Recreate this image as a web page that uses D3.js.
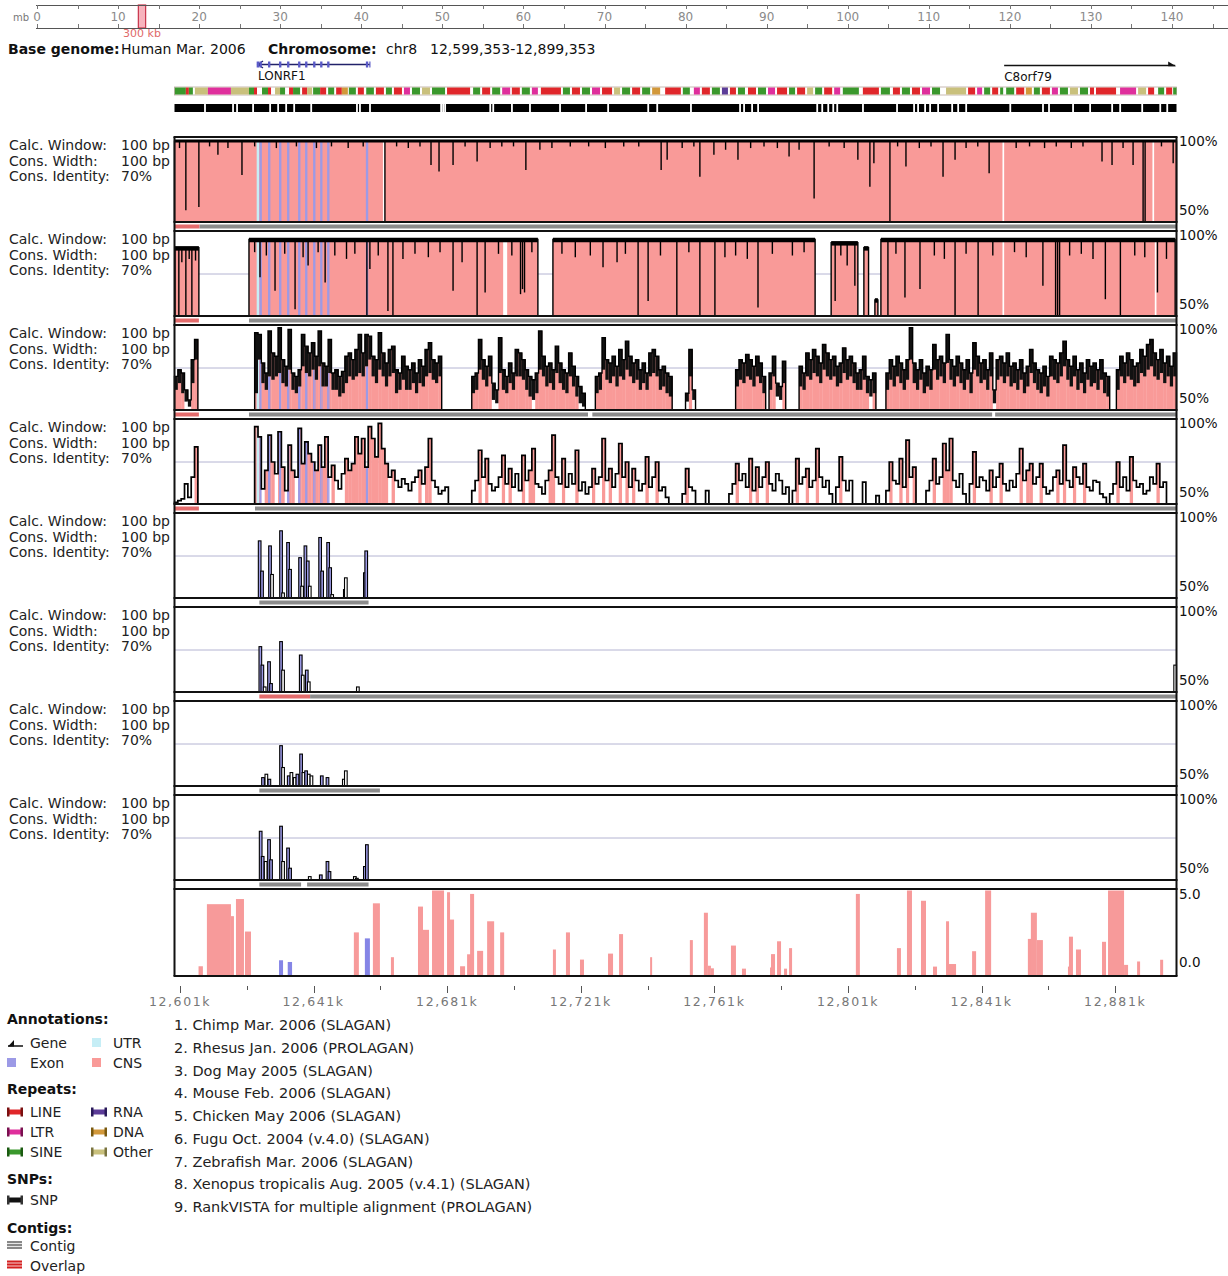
<!DOCTYPE html>
<html>
<head>
<meta charset="utf-8">
<script src="https://cdn.jsdelivr.net/npm/d3@7/dist/d3.min.js"></script>
<style>
html,body{margin:0;padding:0;background:#fff;}
svg text{font-family:"DejaVu Sans",Verdana,sans-serif;}
</style>
</head>
<body>
<svg id="chart" width="1228" height="1276"></svg>
<script>
// ======================= DATA =======================
const regionStartK = 12599.353;          // region start, kb
const regionLengthK = 300;                // region length, kb (positions below are kb offsets)
const rulerLabelsMb = [0,10,20,30,40,50,60,70,80,90,100,110,120,130,140];
const rulerMinorMb = [5,15,25,35,45,55,65,75,85,95,105,115,125,135,145];
const regionMarkMb = [12.5, 13.4];
const regionMarkLabel = "300 kb";
const headerTexts = ["Base genome:", "Human Mar. 2006", "Chromosome:", "chr8", "12,599,353-12,899,353"];

const axisTicksK = [12601,12621,12641,12661,12681,12701,12721,12741,12761,12781,12801,12821,12841,12861,12881];
const axisLabelsK = [12601,12641,12681,12721,12761,12801,12841,12881];

const genes = [
  {name:"LONRF1", start:25.0, end:58.5, strand:-1},
  {name:"C8orf79", start:248.4, end:299.6, strand:1}
];
const utrs = [[24.6,25.35]];
const exons = [[25.45,26.15],[28.0,28.7],[31.3,32.0],[33.7,34.4],[37.0,37.7],[39.1,39.8],[41.5,42.2],[43.6,44.3],[45.7,46.4],[57.3,58.0]];

const repeats = [
[0.1,3.4,"SINE"],[3.4,4.3,"LINE"],[4.3,5.5,"SINE"],[6.1,10.0,"Other"],[10.0,16.9,"LTR"],[16.9,22.3,"Other"],[22.3,23.8,"SINE"],[23.8,24.7,"LINE"],
[26.2,28.0,"SINE"],[28.0,28.9,"LINE"],[30.1,31.6,"Other"],[31.6,33.1,"SINE"],[34.3,35.5,"LINE"],[35.5,37.6,"SINE"],[38.2,39.7,"LINE"],[39.7,41.2,"Other"],
[41.5,43.6,"SINE"],[43.6,45.4,"LINE"],[46.0,47.8,"SINE"],[48.4,50.1,"LINE"],[50.1,51.9,"DNA"],[52.2,54.3,"SINE"],[54.9,56.7,"LINE"],[57.4,59.7,"SINE"],
[60.3,62.7,"LINE"],[63.3,65.1,"SINE"],[65.7,68.1,"LINE"],[68.7,70.5,"LTR"],[71.1,73.5,"SINE"],[74.1,76.5,"Other"],[77.1,81.0,"SINE"],[81.6,88.5,"LINE"],
[89.4,91.5,"SINE"],[92.1,94.5,"LINE"],[95.1,97.5,"SINE"],[98.1,100.5,"LTR"],[101.0,103.4,"LINE"],[104.0,106.4,"SINE"],[107.0,108.8,"LTR"],[109.7,115.7,"LINE"],
[116.3,118.4,"SINE"],[119.0,121.4,"LINE"],[122.0,124.4,"SINE"],[125.0,127.4,"LTR"],[128.0,131.0,"LINE"],[131.6,133.4,"Other"],[134.0,136.4,"SINE"],[137.0,139.4,"LINE"],
[140.0,142.4,"SINE"],[143.0,145.4,"DNA"],[146.9,151.6,"LINE"],[152.2,154.3,"SINE"],[155.5,157.3,"LTR"],[157.9,160.3,"LINE"],[160.9,163.3,"SINE"],[163.9,165.7,"RNA"],
[166.3,168.1,"LINE"],[168.7,170.8,"SINE"],[171.7,174.1,"LINE"],[174.7,177.1,"SINE"],[177.7,179.8,"LTR"],[180.4,183.4,"LINE"],[184.0,185.8,"SINE"],[186.4,188.8,"LINE"],
[189.4,191.2,"Other"],[191.8,193.9,"SINE"],[194.5,196.9,"LINE"],[197.5,199.3,"LTR"],[200.1,204.9,"SINE"],[206.1,210.9,"LINE"],[211.5,214.2,"SINE"],[215.1,217.2,"LINE"],
[217.8,220.2,"SINE"],[220.8,223.2,"LINE"],[223.8,226.2,"LTR"],[226.8,229.2,"SINE"],[231.0,237.0,"Other"],[237.6,239.7,"LINE"],[240.3,241.8,"LTR"],[242.4,244.2,"SINE"],
[244.8,246.6,"LINE"],[247.2,248.1,"SINE"],[249.0,251.4,"SINE"],[252.0,254.4,"LINE"],[254.9,256.7,"DNA"],[257.3,259.1,"SINE"],[259.7,262.1,"LINE"],[262.7,264.5,"LTR"],
[265.1,267.5,"SINE"],[268.1,270.5,"Other"],[271.1,273.5,"SINE"],[274.1,275.3,"LINE"],[275.9,281.9,"LINE"],[283.1,287.9,"LTR"],[288.5,290.9,"Other"],[291.5,293.3,"LINE"],
[294.5,296.3,"SINE"],[296.9,298.7,"LINE"],[299.0,300.0,"SINE"]
];
const snpGaps = [9.1,17.5,18.7,23.5,28.6,31.0,33.4,35.8,40.9,54.6,55.5,58.5,79.8,80.4,81.0,94.5,95.4,101.0,106.4,115.4,123.2,129.8,141.8,144.5,154.6,169.3,170.5,172.9,174.7,192.4,193.9,195.7,197.2,198.4,206.1,216.3,221.4,222.6,224.7,226.2,228.6,232.8,234.6,237.0,250.2,260.0,261.8,269.0,274.1,280.7,283.1,289.7,295.1,297.2];

// Panel 1: Chimp — aligned blocks [start, end, top%], dips [kb, %], white gaps
const chimpBlocks = [[0.0,300.0,98.5]];
const chimpDips = [[3.4,57],[7.3,59],[13.0,90],[20.2,78],[63.0,50],[76.8,84],[79.2,80],[83.4,84],[90.6,86],[105.2,81],[109.4,93],[145.7,81],[147.5,87],[157.3,77],[161.5,90],[168.7,87],[184.0,89],[187.0,93],[191.5,64],[204.6,87],[208.2,71],[209.4,85],[214.2,50],[219.0,83],[230.1,77],[233.7,87],[243.9,79],[277.7,86],[280.7,84],[287.0,84],[290.0,50],[290.6,50],[299.0,85],
[1.5,94],[10.5,95],[16.0,94],[24.0,95],[30.5,94],[36.5,95],[42.5,94],[47.0,95],[52.0,94],[56.5,95],[66.5,95],[70.0,94],[73.5,95],[87.0,95],[94.5,94],[98.0,95],[101.5,95],[113.0,94],[118.5,95],[124.0,95],[129.0,94],[134.5,95],[139.0,95],[152.0,94],[155.5,95],[165.0,93],[172.5,94],[176.5,95],[180.5,94],[196.0,95],[200.5,94],[216.5,95],[223.0,94],[226.5,95],[237.0,94],[240.5,95],[252.0,94],[256.0,95],[260.5,94],[264.0,95],[268.5,94],[272.0,95],[284.0,94],[295.5,95]];
const chimpWhite = [[62.4,63.0],[247.9,248.4],[292.8,293.3]];

// Panel 2: Rhesus
const rhesusBlocks = [[0.15,7.3,91],[22.3,108.8,96],[113.3,191.8,96],[196.6,204.6,94],[206.4,207.8,91],[209.7,210.6,60],[211.5,299.6,96]];
const rhesusDips = [[1.3,50],[3.4,50],[5.2,50],
[25.6,73],[30.1,65],[36.1,54],[40.0,80],[45.1,70],[57.6,50],[58.5,78],[63.9,53],[65.4,50],[68.4,84],[83.4,65],[86.1,82],[90.6,50],[93.0,64],[103.6,63],[104.2,66],[104.8,64],
[128.3,79],[132.5,82],[138.8,50],[141.8,59],[150.4,50],[157.3,50],[161.8,50],[164.8,85],[174.7,55],
[197.8,59],[201.4,80],[203.7,68],
[213.6,50],[218.7,61],[223.2,66],[233.7,50],[240.6,50],[260.0,68],[263.8,50],[264.4,50],[265.0,50],[278.7,60],[283.2,50],[294.3,64],
[2.2,82],[4.4,84],[6.3,83],[24.0,88],[27.5,86],[33.0,87],[38.5,85],[43.0,88],[48.0,86],[51.5,84],[54.0,87],[61.0,86],[72.0,87],[76.0,85],[79.5,88],[97.0,87],[101.0,86],[107.0,88],[116.0,87],[120.0,85],[124.5,86],[135.0,87],[145.5,86],[154.0,88],[168.0,86],[171.5,84],[179.0,87],[185.0,86],[188.5,88],[199.5,86],[216.0,87],[227.5,86],[230.5,84],[237.0,87],[245.0,86],[251.5,88],[255.0,85],[268.0,86],[271.5,87],[275.0,84],[287.5,86],[290.5,85],[297.0,84]];
const rhesusWhite = [[98.4,99.6],[247.9,248.4],[293.5,294.0]];

// Panel 3: Dog — [first 1-kb bin, peak values %, trough values %]
const dogBins = [
[0,[70,74,72,62,56,80,92],[62,66,60,55,52,66,80]],
[24,[96,95,78,72,97,84,82,99,80,76,98,72,70,74,95,88,84,90,82,97,78,76,92,72,74,70,73,82,84,80,86,95,84,95,94,82,80,96,84,78,86,88,74,72,82,76,74,78,72,80,76,86,90,80,78,82],
    [60,80,66,62,70,68,70,72,66,64,74,62,60,64,76,72,70,74,68,76,64,64,72,62,62,58,60,66,70,68,70,72,70,76,80,70,66,74,70,64,70,72,60,62,68,62,62,66,60,66,64,70,72,68,66,70]],
[89,[70,72,92,80,76,82,66,62,93,74,70,78,72,86,84,80,74,70,68,72,97,82,76,78,74,88,78,74,72,84,76,70,64,60],
    [60,62,74,68,64,70,56,54,72,62,60,66,62,70,70,68,62,58,56,60,74,70,64,66,62,72,66,62,60,70,64,58,54,52]],
[126,[70,72,93,80,78,82,76,86,80,91,82,78,80,74,78,72,84,86,82,74,76,72,70],
     [60,62,74,68,66,70,64,70,68,74,70,66,68,62,66,62,70,72,70,62,64,60,58]],
[153,[60,86,62],[55,70,56]],
[168,[74,80,78,83,80,76,82,78,70],[64,68,66,70,68,64,70,66,60]],
[178,[72,82,66,64,79],[62,70,58,56,66]],
[187,[76,72,84,80,86,82,78,89,84,80,82,76,78,87,80,82,78,72,74,82,70,68,72],
     [64,62,70,68,72,70,66,74,70,68,70,64,66,72,68,70,66,62,62,68,60,58,60]],
[213,[72,80,76,82,78,74,80,99,78,74,80,72,76,74,89,80,82,78,95,80,76,82,78,74,80,72,90,82,78,80,74,84,62,80,82,78,84,76,78,74,80,72,76,86,78,74,72,76,70,82,80,78,84,91,80,76,82,74,78,72,80,76,78,74,80,72,70],
     [62,68,64,70,66,62,68,80,66,62,68,60,64,62,74,68,70,66,78,68,64,70,66,62,68,60,74,70,66,68,62,70,54,68,70,66,70,64,66,62,68,60,64,72,66,62,60,64,58,70,68,66,70,76,68,64,70,62,66,60,68,64,66,62,68,60,58]],
[282,[74,82,78,84,80,76,78,86,82,89,92,84,80,86,78,82,76,84],[62,70,66,70,68,64,66,72,70,74,76,70,68,72,66,70,64,70]]
];

// Panel 4: Mouse — [first 1-kb bin, values %]
const mouseBins = [
[0,[51,52,53,62,54,66,84]],
[24,[96,90,59,70,91,75,68,93,72,58,85,70,66,95,74,87,80,75,70,85,72,90,66,73,64,59,68,77,70,74,90,80,89,72,96,89,78,98,83,74,66,70,64,60,65,62,58,63,66,70,62,72,89,64,60,56,58,60]],
[89,[58,64,82,66,77,62,58,60,66,79,62,71,60,68,58,79,64,70,83,62,60,56,64,70,91,66,62,77,60,68,62,82,58,63,56,60,71,62,66,89,64,71,60,68,86,66,75,60,71,64,58,62,78,60,66,75,58,60,54]],
[152,[56,71,60,58]],
[159,[58]],
[166,[56,62,74,64,68,60,77,58,72,60,66,75,62,58,68,64,56,60]],
[185,[58,77,62,66,71,60,64,83,66,60,64,56]],
[198,[60,78,64,58,64]],
[206,[63]],
[210,[55]],
[213,[58,75,64,62,77,60,88,66,72]],
[225,[58,64,77,62,66,86,70,89,64,60,68,56]],
[238,[62,81,60,66,64,58,70,60,66,74,62,58,64,60,68,83,64,70,74,62,66,74,60,56,58,66,70,62,85,64,60,72,66,62,74,60,58,64,63,56,54]],
[280,[56,62,75,60,66,58,78,64,60,62,56,58,66,62,74,60,63]]
];

// Panels 5-8: narrow peaks [kb, %]
const chickenPeaks = [[25.5,84],[26.2,66],[28.6,81],[29.2,64],[31.9,90],[32.5,53],[34.0,83],[34.6,67],[37.6,74],[38.2,57],[39.2,81],[39.9,72],[40.5,57],[43.6,86],[44.2,66],[46.0,83],[46.6,68],[47.2,52],[51.0,55],[51.3,62],[57.0,65],[57.4,78]];
const fuguPeaks = [[25.7,77],[26.3,66],[27.0,53],[28.3,68],[28.9,55],[31.9,80],[32.5,63],[37.8,72],[38.4,60],[39.6,63],[40.2,56],[54.9,53],[299.6,66]];
const zebrafishPeaks = [[26.5,55],[27.5,57],[28.4,54],[31.9,74],[32.5,61],[34.2,56],[35.0,58],[36.0,55],[36.8,57],[37.9,69],[38.6,58],[39.4,59],[40.2,57],[41.0,56],[44.1,56],[45.8,55],[50.7,54],[51.3,59]];
const xenopusPeaks = [[25.8,79],[26.4,64],[27.3,61],[28.3,74],[28.9,62],[31.9,82],[32.5,61],[34.0,69],[34.6,57],[40.5,52],[43.8,53],[45.8,61],[46.4,55],[54.0,52],[54.6,51],[57.0,58],[57.6,71]];

// Panel 9: RankVISTA bars [start, end, score, kind]
const rankBars = [
[7.2,8.5,0.57,"cns"],[9.7,16.9,4.2,"cns"],[16.9,17.8,3.5,"cns"],[18.4,20.8,4.5,"cns"],[21.1,22.9,2.6,"cns"],[31.3,32.5,0.92,"exon"],[33.9,35.2,0.82,"exon"],
[53.7,55.2,2.55,"cns"],[57.0,58.5,2.2,"exon"],[59.4,61.5,4.25,"cns"],[64.8,65.7,1.1,"cns"],[72.9,74.4,4.06,"cns"],[74.4,76.2,2.7,"cns"],[77.1,80.7,5.0,"cns"],
[81.6,82.5,4.9,"cns"],[82.2,83.7,3.3,"cns"],[85.5,87.0,0.57,"cns"],[87.6,88.8,1.27,"cns"],[88.5,89.7,4.8,"cns"],[90.6,92.4,1.47,"cns"],[93.6,95.7,3.2,"cns"],
[97.5,98.7,2.55,"cns"],[113.3,114.2,1.55,"cns"],[117.2,118.4,2.55,"cns"],[121.4,122.6,0.96,"cns"],[129.8,131.3,1.31,"cns"],[133.1,134.3,2.45,"cns"],[142.4,143.0,1.1,"cns"],
[154.3,155.2,2.1,"cns"],[158.5,159.7,3.7,"cns"],[159.7,160.6,0.6,"cns"],[160.6,161.5,0.45,"cns"],[166.6,168.1,1.78,"cns"],[169.9,171.1,0.43,"cns"],[178.3,178.9,0.5,"cns"],
[178.6,179.8,1.28,"cns"],[180.4,181.6,2.03,"cns"],[182.5,183.4,0.43,"cns"],[184.0,184.9,1.63,"cns"],[204.0,205.2,4.8,"cns"],[216.3,217.5,1.63,"cns"],[219.3,220.8,5.0,"cns"],
[223.5,225.0,4.4,"cns"],[227.1,228.3,0.55,"cns"],[231.0,231.9,3.2,"cns"],[231.6,234.0,0.7,"cns"],[238.8,240.0,1.45,"cns"],[242.7,244.5,5.0,"cns"],[255.5,257.0,2.17,"cns"],
[256.4,258.2,3.7,"cns"],[258.2,260.0,2.1,"cns"],[267.5,268.7,0.55,"cns"],[267.8,269.0,2.3,"cns"],[269.9,271.4,1.55,"cns"],[277.7,278.9,2.0,"cns"],[279.5,284.3,5.0,"cns"],
[284.3,285.5,0.65,"cns"],[288.2,289.1,0.85,"cns"],[295.1,296.0,0.95,"cns"]
];

// contig strips per panel [start, end, kind]
const contigs = [
 [[0,7.5,"overlap"],[7.5,300,"contig"]],
 [[0,7.3,"overlap"],[22.3,300,"contig"]],
 [[0,7.3,"overlap"],[22.3,123.8,"contig"],[125.1,244.8,"contig"],[245.7,300,"contig"]],
 [[0,7.3,"overlap"],[24.1,300,"contig"]],
 [[25.4,58.1,"contig"]],
 [[25.4,40.6,"overlap"],[40.6,300,"contig"]],
 [[25.4,61.5,"contig"]],
 [[25.4,37.9,"contig"],[39.7,58.1,"contig"]]
];

const panelParamLabels = ["Calc. Window:", "Cons. Width:", "Cons. Identity:"];
const panelParamValues = ["100 bp", "100 bp", "70%"];
const identityTicks = ["100%", "50%"];
const rankTicks = ["5.0", "0.0"];
const speciesList = [
 "1. Chimp Mar. 2006 (SLAGAN)",
 "2. Rhesus Jan. 2006 (PROLAGAN)",
 "3. Dog May 2005 (SLAGAN)",
 "4. Mouse Feb. 2006 (SLAGAN)",
 "5. Chicken May 2006 (SLAGAN)",
 "6. Fugu Oct. 2004 (v.4.0) (SLAGAN)",
 "7. Zebrafish Mar. 2006 (SLAGAN)",
 "8. Xenopus tropicalis Aug. 2005 (v.4.1) (SLAGAN)",
 "9. RankVISTA for multiple alignment (PROLAGAN)"
];
const legendAnnot = [["Gene","UTR"],["Exon","CNS"]];
const legendRepeats = [["LINE","RNA"],["LTR","DNA"],["SINE","Other"]];

// ======================= STYLE =======================
const PINK = "#f99a98", EXON = "#9c9ae6", UTRC = "#c6eef6";
const RANKPINK = "#f79a9a", RANKBLUE = "#8585e6";
const repeatColor = {LINE:"#e0262a", LTR:"#df2f9c", SINE:"#3a982c", DNA:"#d2983a", Other:"#c9c07c", RNA:"#5c3c98"};
const repeatCap = {LINE:"#7a1010", LTR:"#7a1050", SINE:"#1a5a10", DNA:"#7a5a10", Other:"#7a7440", RNA:"#2a1a5a"};

const svg = d3.select("#chart");
svg.append("rect").attr("width",1228).attr("height",1276).attr("fill","#fff");

const x = d3.scaleLinear().domain([0, regionLengthK]).range([174.5, 1176.5]);
const TOP0 = 137, STEP = 94, PH = 85;

// ======================= RULER =======================
const ruler = d3.scaleLinear().domain([0,140]).range([37,1172]);
const rg = svg.append("g");
rg.append("rect").attr("x", ruler(regionMarkMb[0])).attr("y",5).attr("width", ruler(regionMarkMb[1])-ruler(regionMarkMb[0])).attr("height",23)
  .attr("fill","#f7b3bd").attr("stroke","#c8324a").attr("stroke-width",1.2);
[5.5,28.5].forEach(yy=> rg.append("line").attr("x1",36).attr("x2",1228).attr("y1",yy).attr("y2",yy).attr("stroke","#555").attr("stroke-width",1));
rulerMinorMb.concat(rulerLabelsMb).forEach(m=>{
  const xx = Math.round(ruler(m))+0.5;
  rg.append("line").attr("x1",xx).attr("x2",xx).attr("y1",5).attr("y2",9).attr("stroke","#777");
  rg.append("line").attr("x1",xx).attr("x2",xx).attr("y1",24).attr("y2",28).attr("stroke","#777");
});
rulerLabelsMb.forEach(m=>{
  rg.append("text").attr("x", ruler(m)).attr("y",21).attr("text-anchor","middle").attr("font-size",12).attr("fill","#8a8a8a").text(m);
});
rg.append("text").attr("x",13).attr("y",21).attr("font-size",10).attr("fill","#777").text("mb");
rg.append("text").attr("x", ruler((regionMarkMb[0]+regionMarkMb[1])/2)).attr("y",37).attr("text-anchor","middle").attr("font-size",11).attr("fill","#e06a6a").text(regionMarkLabel);

// header line
const hx = [8, 121, 268, 386, 430];
headerTexts.forEach((t,i)=>{
  svg.append("text").attr("x",hx[i]).attr("y",54).attr("font-size",14).attr("font-weight", (i===0||i===2)?"bold":"normal")
    .attr("fill","#111").text(t);
});

// ======================= GENES =======================
genes.forEach(g=>{
  const x0 = x(g.start), x1 = x(g.end);
  if (g.strand < 0) {
    const yy = 64.5;
    svg.append("line").attr("x1",x0).attr("x2",x1).attr("y1",yy).attr("y2",yy).attr("stroke","#22226a").attr("stroke-width",1.6);
    svg.append("path").attr("d",`M${x0+5},${yy-3.5}L${x0},${yy}L${x0+5},${yy+3.5}`).attr("fill","none").attr("stroke","#22226a").attr("stroke-width",1.4);
    svg.append("line").attr("x1",x1).attr("x2",x1).attr("y1",yy-3).attr("y2",yy+3).attr("stroke","#5a5ac8").attr("stroke-width",1.2);
    exons.concat(utrs).forEach(e=>{
      svg.append("rect").attr("x",x(e[0])).attr("y",yy-3).attr("width",Math.max(1.5,x(e[1])-x(e[0]))).attr("height",6).attr("fill","#5a5ac8");
    });
    svg.append("text").attr("x",x0).attr("y",80).attr("font-size",12).attr("fill","#111").text(g.name);
  } else {
    const yy = 65.5;
    svg.append("line").attr("x1",x0).attr("x2",x1).attr("y1",yy).attr("y2",yy).attr("stroke","#111").attr("stroke-width",1.6);
    svg.append("path").attr("d",`M${x1-7},${yy-4}L${x1+1},${yy+0.8}L${x1-7},${yy+0.8}Z`).attr("fill","#111");
    svg.append("text").attr("x",x0).attr("y",81).attr("font-size",12).attr("fill","#111").text(g.name);
  }
});

// ======================= REPEATS & SNP TRACK =======================
const repG = svg.append("g");
repG.append("rect").attr("x",x(0)).attr("y",87).attr("width",x(300)-x(0)).attr("height",8).attr("fill","#fff").attr("stroke","#b9a8a0").attr("stroke-width",0.8);
repeats.forEach(r=>{
  repG.append("rect").attr("x",x(r[0])).attr("y",87.5).attr("width",Math.max(0.8,x(r[1])-x(r[0]))).attr("height",7).attr("fill",repeatColor[r[2]]);
});
const snpG = svg.append("g");
snpG.append("rect").attr("x",x(0)).attr("y",104).attr("width",x(300)-x(0)).attr("height",8).attr("fill","#000");
snpGaps.forEach(k=>{
  snpG.append("rect").attr("x",x(k)-0.8).attr("y",104).attr("width",1.8).attr("height",8).attr("fill","#fff");
});

// ======================= PANELS =======================
function yScaleFor(top){ return d3.scaleLinear().domain([50,100]).range([top+PH, top+1]); }
function exonOverlay(g, y, a, b, topVal){
  utrs.forEach(e=>{
    const s=Math.max(a,e[0]), t=Math.min(b,e[1]);
    if (t>s) g.append("rect").attr("x",x(s)).attr("y",y(topVal)).attr("width",x(t)-x(s)).attr("height",y(50)-y(topVal)).attr("fill",UTRC);
  });
  exons.forEach(e=>{
    const s=Math.max(a,e[0]), t=Math.min(b,e[1]);
    if (t>s) g.append("rect").attr("x",x(s)).attr("y",y(topVal)).attr("width",x(t)-x(s)).attr("height",y(50)-y(topVal)).attr("fill",EXON);
  });
}
function drawBlocks(g, y, blocks, dips, whites, sw){
  blocks.forEach(([s,e,t])=>{
    g.append("rect").attr("x",x(s)).attr("y",y(t)).attr("width",x(e)-x(s)).attr("height",y(50)-y(t)).attr("fill",PINK);
    exonOverlay(g, y, s, e, t);
  });
  whites.forEach(([s,e])=>{
    g.append("rect").attr("x",x(s)).attr("y",y(100)).attr("width",Math.max(1.2,x(e)-x(s))).attr("height",y(50)-y(100)).attr("fill","#fff");
  });
  blocks.forEach(([s,e,t])=>{
    g.append("path").attr("d",`M${x(s)},${y(50)}V${y(t)}M${x(e)},${y(t)}V${y(50)}`).attr("fill","none").attr("stroke","#000").attr("stroke-width",1.4);
    g.append("line").attr("x1",x(s)).attr("x2",x(e)).attr("y1",y(t)+sw/2-1).attr("y2",y(t)+sw/2-1).attr("stroke","#000").attr("stroke-width",sw);
  });
  dips.forEach(([k,p])=>{
    const b = blocks.find(bb=>k>=bb[0] && k<=bb[1]);
    const t = b ? b[2] : 95;
    g.append("line").attr("x1",x(k)).attr("x2",x(k)).attr("y1",y(t)).attr("y2",y(p)).attr("stroke","#000").attr("stroke-width",1.4);
  });
}
function drawBins(g, y, blocks, sw){
  blocks.forEach(([s, vals, lows])=>{
    vals.forEach((v,i)=>{
      const a=s+i, b=s+i+1;
      g.append("rect").attr("x",x(a)).attr("y",y(v)).attr("width",x(b)-x(a)+0.3).attr("height",y(50)-y(v)).attr("fill", v>=70?PINK:"#fff");
      exonOverlay(g, y, a, b, lows ? lows[i] : v);
      if (lows) {
        g.append("rect").attr("x",x(a)).attr("y",y(v)).attr("width",x(b)-x(a)+0.3).attr("height",Math.max(0,y(lows[i])-y(v))).attr("fill","#111");
      }
    });
    let d = `M${x(s)},${y(50)}`;
    vals.forEach((v,i)=>{ d += `V${y(v)}H${x(s+i+1)}`; });
    d += `V${y(50)}`;
    g.append("path").attr("d",d).attr("fill","none").attr("stroke","#000").attr("stroke-width",sw);
  });
}
function drawPeaks(g, y, peaks){
  peaks.forEach(([k,p])=>{
    const a=k-0.4, b=k+0.4;
    const inEx = exons.concat(utrs).some(e=> b>e[0] && a<e[1]);
    g.append("rect").attr("x",x(a)).attr("y",y(p)).attr("width",x(b)-x(a)).attr("height",y(50)-y(p))
      .attr("fill", inEx?EXON:(p>=70?PINK:"#fff")).attr("stroke","#000").attr("stroke-width",1.1);
  });
}

const panelDraw = [
  (g,y)=>drawBlocks(g,y,chimpBlocks,chimpDips,chimpWhite,3),
  (g,y)=>drawBlocks(g,y,rhesusBlocks,rhesusDips,rhesusWhite,4.5),
  (g,y)=>drawBins(g,y,dogBins,1.4),
  (g,y)=>drawBins(g,y,mouseBins,1.7),
  (g,y)=>drawPeaks(g,y,chickenPeaks),
  (g,y)=>drawPeaks(g,y,fuguPeaks),
  (g,y)=>drawPeaks(g,y,zebrafishPeaks),
  (g,y)=>drawPeaks(g,y,xenopusPeaks)
];

panelDraw.forEach((fn,i)=>{
  const top = TOP0 + STEP*i;
  const y = yScaleFor(top);
  const g = svg.append("g");
  g.append("line").attr("x1",x(0)).attr("x2",x(300)).attr("y1",y(75)).attr("y2",y(75)).attr("stroke","#b4b4d2").attr("stroke-width",1);
  fn(g,y);
  // contig strip
  contigs[i].forEach(([s,e,k])=>{
    g.append("rect").attr("x",x(s)).attr("y",top+PH+2.5).attr("width",x(e)-x(s)).attr("height",4)
      .attr("fill", k==="overlap"?"#e46c6c":"#8c8c8c");
  });
  // labels
  panelParamLabels.forEach((t,j)=>{
    const by = top + 13 + j*15.5;
    svg.append("text").attr("x",9).attr("y",by).attr("font-size",14).attr("fill","#222").text(t);
    svg.append("text").attr("x",121).attr("y",by).attr("font-size",14).attr("fill","#222").text(panelParamValues[j]);
  });
  svg.append("text").attr("x",1179).attr("y",top+9).attr("font-size",13.5).attr("fill","#111").text(identityTicks[0]);
  svg.append("text").attr("x",1179).attr("y",top+78).attr("font-size",13.5).attr("fill","#111").text(identityTicks[1]);
});

// RankVISTA panel
const rTop = TOP0 + STEP*8, rBot = 976;
const yr = d3.scaleLinear().domain([0,5]).range([rBot, rTop+1.5]);
const rgp = svg.append("g");
rankBars.forEach(([s,e,v,k])=>{
  rgp.append("rect").attr("x",x(s)).attr("y",yr(v)).attr("width",Math.max(1.5,x(e)-x(s))).attr("height",yr(0)-yr(v))
    .attr("fill", k==="exon"?RANKBLUE:RANKPINK);
});
svg.append("text").attr("x",1179).attr("y",rTop+10).attr("font-size",13.5).attr("fill","#111").text(rankTicks[0]);
svg.append("text").attr("x",1179).attr("y",rBot-9).attr("font-size",13.5).attr("fill","#111").text(rankTicks[1]);

// frame lines
const fr = svg.append("g").attr("stroke","#111").attr("stroke-width",2);
for (let i=0;i<8;i++){
  const top = TOP0 + STEP*i;
  fr.append("line").attr("x1",x(0)-1).attr("x2",x(300)+1).attr("y1",top).attr("y2",top);
  fr.append("line").attr("x1",x(0)-1).attr("x2",x(300)+1).attr("y1",top+PH).attr("y2",top+PH);
}
fr.append("line").attr("x1",x(0)-1).attr("x2",x(300)+1).attr("y1",rTop).attr("y2",rTop);
fr.append("line").attr("x1",x(0)-1).attr("x2",x(300)+1).attr("y1",rBot).attr("y2",rBot);
fr.append("line").attr("x1",x(0)).attr("x2",x(0)).attr("y1",TOP0).attr("y2",rBot);
fr.append("line").attr("x1",x(300)).attr("x2",x(300)).attr("y1",TOP0).attr("y2",rBot);

// bottom axis
const ax = svg.append("g");
axisTicksK.forEach(k=>{
  const xx = Math.round(x(k-regionStartK))+0.5;
  const major = axisLabelsK.includes(k);
  ax.append("line").attr("x1",xx).attr("x2",xx).attr("y1",986).attr("y2",major?993:990).attr("stroke","#555").attr("stroke-width",1);
});
axisLabelsK.forEach(k=>{
  ax.append("text").attr("x",x(k-regionStartK)).attr("y",1006).attr("text-anchor","middle").attr("font-size",12.5)
    .attr("letter-spacing","1.6px").attr("fill","#777").text(d3.format(",")(k)+"k");
});

// ======================= LEGEND =======================
const lg = svg.append("g");
function heading(t, yy){ lg.append("text").attr("x",7).attr("y",yy).attr("font-size",14).attr("font-weight","bold").attr("fill","#111").text(t); }
function label(t, xx, yy){ lg.append("text").attr("x",xx).attr("y",yy).attr("font-size",14).attr("fill","#222").text(t); }
function ibeam(x0, cy, col, cap){
  lg.append("rect").attr("x",x0+2).attr("y",cy-2.5).attr("width",12).attr("height",5).attr("fill",col);
  lg.append("rect").attr("x",x0).attr("y",cy-4.5).attr("width",2.5).attr("height",9).attr("fill",cap);
  lg.append("rect").attr("x",x0+13.5).attr("y",cy-4.5).attr("width",2.5).attr("height",9).attr("fill",cap);
}
heading("Annotations:", 1024);
lg.append("line").attr("x1",8).attr("x2",23).attr("y1",1046).attr("y2",1046).attr("stroke","#111").attr("stroke-width",1.5);
lg.append("path").attr("d","M8,1046.5L14,1040L14,1046.5Z").attr("fill","#111");
label(legendAnnot[0][0], 30, 1048);
lg.append("rect").attr("x",92).attr("y",1038).attr("width",9).attr("height",9).attr("fill",UTRC);
label(legendAnnot[0][1], 113, 1048);
lg.append("rect").attr("x",7).attr("y",1058).attr("width",9).attr("height",9).attr("fill",EXON);
label(legendAnnot[1][0], 30, 1068);
lg.append("rect").attr("x",92).attr("y",1058).attr("width",9).attr("height",9).attr("fill",PINK);
label(legendAnnot[1][1], 113, 1068);

heading("Repeats:", 1094);
legendRepeats.forEach((row,i)=>{
  const yy = 1117 + i*20;
  ibeam(7, yy-5, repeatColor[row[0]], repeatCap[row[0]]);
  label(row[0], 30, yy);
  ibeam(91, yy-5, repeatColor[row[1]], repeatCap[row[1]]);
  label(row[1], 113, yy);
});
heading("SNPs:", 1184);
ibeam(7, 1200, "#111", "#333");
label("SNP", 30, 1205);
heading("Contigs:", 1233);
[["Contig","#888"],["Overlap","#d42020"]].forEach(([t,c],i)=>{
  const yy = 1251 + i*19.5;
  lg.append("rect").attr("x",7).attr("y",yy-10).attr("width",15).attr("height",8).attr("fill",c);
  lg.append("line").attr("x1",7).attr("x2",22).attr("y1",yy-7.5).attr("y2",yy-7.5).attr("stroke","#fff").attr("stroke-width",0.8);
  lg.append("line").attr("x1",7).attr("x2",22).attr("y1",yy-4.5).attr("y2",yy-4.5).attr("stroke","#fff").attr("stroke-width",0.8);
  label(t, 30, yy);
});

speciesList.forEach((t,i)=>{
  svg.append("text").attr("x",174).attr("y",1030 + i*22.75).attr("font-size",14.5).attr("fill","#222").text(t);
});
</script>
</body>
</html>
